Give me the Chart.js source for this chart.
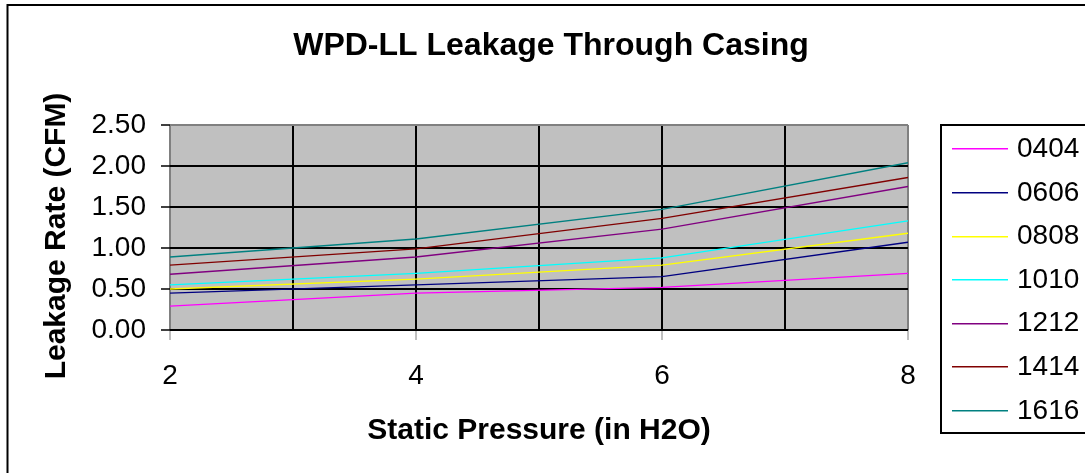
<!DOCTYPE html>
<html>
<head>
<meta charset="utf-8">
<script src="https://cdn.jsdelivr.net/npm/chart.js@4/dist/chart.umd.min.js"></script>
<style>
  html, body { margin: 0; padding: 0; background: #ffffff; }
  #wrap { width: 1085px; height: 473px; }
</style>
</head>
<body>
<div id="wrap"><canvas id="c" width="1085" height="473"></canvas></div>
<script>
// ---- data ----
const chartTitle = 'WPD-LL Leakage Through Casing';
const xTitle = 'Static Pressure (in H2O)';
const yTitle = 'Leakage Rate (CFM)';
const pressures = [2, 4, 6, 8];
const seriesNames = ['0404', '0606', '0808', '1010', '1212', '1414', '1616'];
const s0404 = [0.29, 0.45, 0.52, 0.69];
const s0606 = [0.45, 0.55, 0.65, 1.07];
const s0808 = [0.50, 0.62, 0.79, 1.18];
const s1010 = [0.55, 0.69, 0.88, 1.33];
const s1212 = [0.68, 0.89, 1.23, 1.75];
const s1414 = [0.79, 0.99, 1.36, 1.86];
const s1616 = [0.89, 1.11, 1.47, 2.04];
const seriesValues = [s0404, s0606, s0808, s1010, s1212, s1414, s1616];
const yTickMin = 0, yTickMax = 2.5, yTickStep = 0.5;
const xTickMin = 2, xTickMax = 8, xTickStep = 1;

// ---- styles ----
const seriesColors = ['#FF00FF', '#000080', '#FFFF00', '#00FFFF', '#800080', '#800000', '#008080'];
const FONT = '"Liberation Sans", Arial, Helvetica, sans-serif';

const datasets = seriesNames.map((name, i) => ({
  label: name,
  data: pressures.map((p, j) => ({ x: p, y: seriesValues[i][j] })),
  borderColor: seriesColors[i],
  backgroundColor: seriesColors[i],
  borderWidth: 1.3,
  pointRadius: 0,
  tension: 0,
  fill: false
}));

const decor = {
  id: 'decor',
  beforeDraw(chart) {
    const ctx = chart.ctx, a = chart.chartArea;
    ctx.save();
    ctx.fillStyle = '#ffffff';
    ctx.fillRect(0, 0, chart.width, chart.height);
    // outer chart border
    ctx.strokeStyle = '#000000';
    ctx.lineWidth = 2;
    ctx.strokeRect(7.5, 5, 1200, 600);
    // plot area background
    ctx.fillStyle = '#C0C0C0';
    ctx.fillRect(a.left, a.top, a.right - a.left, a.bottom - a.top);
    ctx.restore();
  },
  afterDraw(chart) {
    const ctx = chart.ctx, a = chart.chartArea;
    ctx.save();
    ctx.fillStyle = '#000000';
    // chart title
    ctx.font = 'bold 32px ' + FONT;
    ctx.textAlign = 'center';
    ctx.textBaseline = 'alphabetic';
    ctx.fillText(chartTitle, 551, 55);
    // x title
    ctx.font = 'bold 30px ' + FONT;
    ctx.fillText(xTitle, (a.left + a.right) / 2, 439);
    // y title
    ctx.save();
    ctx.translate(64.5, 236);
    ctx.rotate(-Math.PI / 2);
    ctx.fillText(yTitle, 0, 0);
    ctx.restore();
    // legend
    const lx = 941, ly = 125, lh = 308;
    ctx.strokeStyle = '#000000';
    ctx.lineWidth = 2;
    ctx.strokeRect(lx, ly, 300, lh);
    ctx.font = '28px ' + FONT;
    ctx.textAlign = 'left';
    ctx.textBaseline = 'middle';
    chart.data.datasets.forEach((ds, i) => {
      const y = 148.3 + i * 43.6;
      ctx.fillStyle = ds.borderColor;
      ctx.fillRect(952, Math.round(y), 56, 1.5);
      ctx.fillStyle = '#000000';
      ctx.fillText(ds.label, 1017, y + 1);
    });
    ctx.restore();
  }
};

new Chart(document.getElementById('c'), {
  type: 'line',
  data: { datasets },
  options: {
    responsive: false,
    animation: false,
    events: [],
    layout: { padding: { left: 0, top: 125, right: 177, bottom: 0 } },
    plugins: { legend: { display: false }, title: { display: false }, tooltip: { enabled: false } },
    scales: {
      x: {
        type: 'linear',
        min: xTickMin, max: xTickMax,
        afterFit(scale) { scale.height = 143; },
        border: { display: false },
        grid: {
          drawOnChartArea: true,
          lineWidth: 2,
          color: (c) => (c.tick && (c.tick.value === xTickMin || c.tick.value === xTickMax)) ? '#808080' : '#000000',
          tickLength: 10,
          tickWidth: 1,
          tickColor: (c) => (c.tick && c.tick.value % 2 === 0) ? '#808080' : 'rgba(0,0,0,0)'
        },
        ticks: {
          stepSize: xTickStep,
          autoSkip: false,
          maxRotation: 0,
          padding: 19,
          color: '#000000',
          font: { family: FONT, size: 28 },
          callback: (v) => (v % 2 === 0 ? String(v) : '')
        }
      },
      y: {
        min: yTickMin, max: yTickMax,
        afterFit(scale) { scale.width = 170; },
        border: { display: false },
        grid: {
          lineWidth: 2,
          color: (c) => (c.tick && c.tick.value === yTickMax) ? '#808080' : '#000000',
          tickLength: 9,
          tickWidth: 1.5,
          tickColor: '#000000'
        },
        ticks: {
          stepSize: yTickStep,
          padding: 15,
          color: '#000000',
          font: { family: FONT, size: 28 },
          callback: (v) => Number(v).toFixed(2)
        }
      }
    }
  },
  plugins: [decor]
});
</script>
</body>
</html>
